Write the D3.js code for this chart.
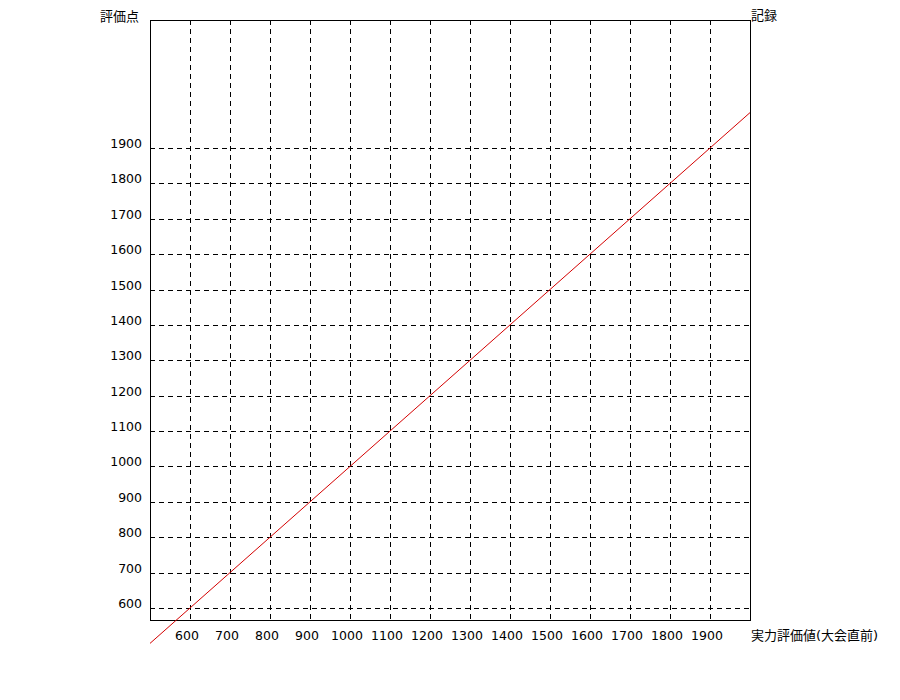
<!DOCTYPE html>
<html><head><meta charset="utf-8">
<script src="https://cdn.jsdelivr.net/npm/d3@7"></script>
<style>body{margin:0;background:#fff}text{font-family:"DejaVu Sans",Verdana,"Noto Sans CJK JP",sans-serif;font-size:12.5px;fill:#000}.jp{font-size:13px}</style>
</head><body>
<svg id="c" width="900" height="700"></svg>
<script>
const xTicks = [600,700,800,900,1000,1100,1200,1300,1400,1500,1600,1700,1800,1900];
const yTicks = [600,700,800,900,1000,1100,1200,1300,1400,1500,1600,1700,1800,1900];
const lineX = [500, 2000];
const lineY = [500, 2000];
const yLabel = "評価点";
const xLabel = "実力評価値(大会直前)";
const rightLabel = "記録";

const svg = d3.select("#c");
const L=150,R=750,T=20,B=620;
const x = d3.scaleLinear().domain([500,2000]).range([L,R]);
const y = d3.scaleLinear().domain([600,1900]).range([608,148]);

const g = svg.append("g");
g.selectAll(".vg").data(xTicks).join("line")
  .attr("x1",d=>x(d)+0.5).attr("x2",d=>x(d)+0.5).attr("y1",T).attr("y2",B)
  .attr("stroke","#000").attr("stroke-dasharray","5,4").attr("stroke-width",1);
g.selectAll(".hg").data(yTicks).join("line")
  .attr("y1",d=>Math.round(y(d))+0.5).attr("y2",d=>Math.round(y(d))+0.5).attr("x1",L).attr("x2",R)
  .attr("stroke","#000").attr("stroke-dasharray","5,4").attr("stroke-width",1);

svg.append("rect").attr("x",L+0.5).attr("y",T+0.5).attr("width",R-L).attr("height",B-T)
  .attr("fill","none").attr("stroke","#000").attr("stroke-width",1);

svg.append("line").attr("x1",x(lineX[0])).attr("y1",y(lineY[0])).attr("x2",x(lineX[1])).attr("y2",y(lineY[1]))
  .attr("stroke","#d40000").attr("stroke-width",1);

svg.selectAll(".xl").data(xTicks).join("text")
  .attr("x",d=>x(d)-3).attr("y",640).attr("text-anchor","middle").text(d=>d);
svg.selectAll(".yl").data(yTicks).join("text")
  .attr("x",142).attr("y",d=>y(d)).attr("text-anchor","end").text(d=>d);

svg.append("text").attr("class","jp").attr("x",100).attr("y",21).text(yLabel);
svg.append("text").attr("class","jp").attr("x",751).attr("y",20).text(rightLabel);
svg.append("text").attr("class","jp").attr("x",751).attr("y",640).text(xLabel);
</script>
</body></html>
